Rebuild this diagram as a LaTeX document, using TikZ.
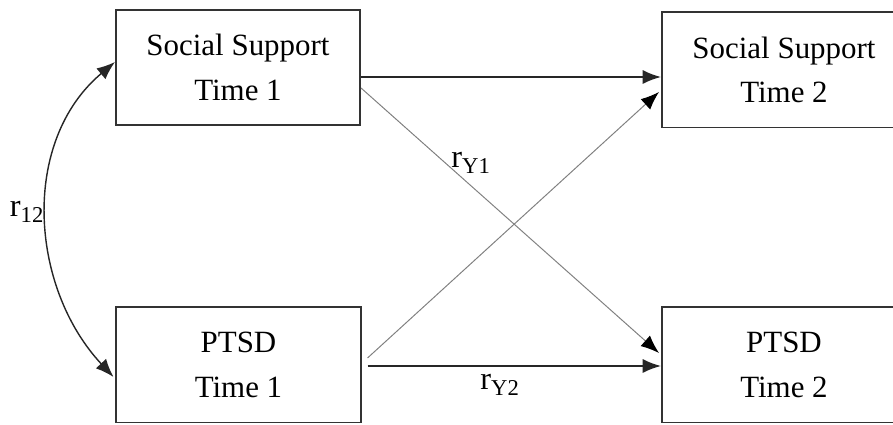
\documentclass[tikz,border=0pt]{standalone}
\usepackage{fontspec}
\setmainfont{Liberation Serif}
\usetikzlibrary{arrows.meta,calc}

\begin{document}
\begin{tikzpicture}[x=0.025cm,y=0.025cm,
  box/.style={draw=black!80, line width=1.4pt, minimum width=6.1cm, minimum height=2.875cm, align=center, font=\fontsize{22}{31.5}\selectfont},
  lbl/.style={font=\fontsize{23}{26}\selectfont},
  main/.style={-{Latex[length=13pt,width=10pt]}, line width=1.2pt, black!85},
  cross/.style={-{Latex[length=13pt,width=10pt,color=black]}, line width=0.7pt, black!50}]
\useasboundingbox (0,0) rectangle (893,425);
\clip (0,0) rectangle (893,425);
\node[box] (ss1) at (238,357.5) {Social Support\\Time 1};
\node[box] (pt1) at (238.5,60) {PTSD\\Time 1};
\node[box] (ss2) at (784,355) {Social Support\\Time 2};
\node[box] (pt2) at (784,60) {PTSD\\Time 2};
\draw[main] ($(ss1.east)+(0,-9.5)$) -- ($(ss2.west)+(0,-7)$);
\draw[main] ($(pt1.east)+(6,-1)$) -- ($(pt2.west)+(0,-1)$);
\draw[cross] ($(ss1.east)+(0,-20.5)$) -- ($(pt2.west)+(-2,12)$);
\draw[cross] ($(pt1.east)+(6,7)$) -- ($(ss2.west)+(-2,-22)$);
\draw[main, line width=1pt, {Latex[length=13pt,width=10pt]}-{Latex[length=13pt,width=10pt]}] ($(ss1.west)+(0,5.5)$) to[out=220, in=133] ($(pt1.west)+(-2,-12)$);
\node[lbl] (r12) at (27,213) {r\textsubscript{12}};
\node[lbl] (ry1) at (471,262) {r\textsubscript{Y1}};
\node[lbl] (ry2) at (500,40) {r\textsubscript{Y2}};
\end{tikzpicture}
\end{document}
